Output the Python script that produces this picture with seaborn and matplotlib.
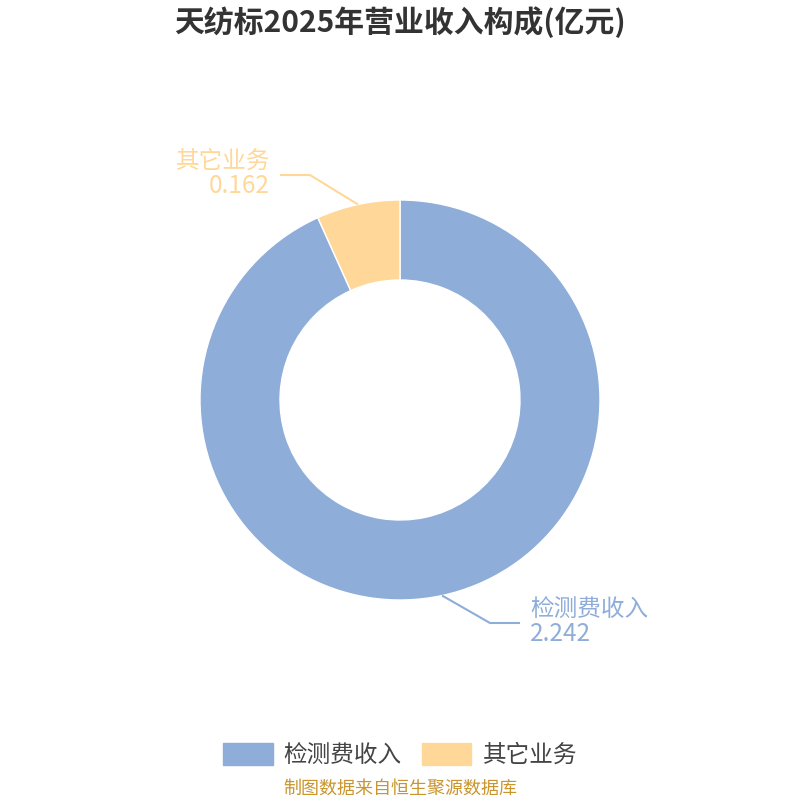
import numpy as np
import matplotlib
matplotlib.use("Agg")
import matplotlib.pyplot as plt
import seaborn as sns

# -------------------------------------------------------
# Data
# -------------------------------------------------------

categories = ["检测费收入", "其它业务"]
values = [2.242, 0.162]
value_labels = ["2.242", "0.162"]

title_text = "天纺标2025年营业收入构成(亿元)"
source_text = "制图数据来自恒生聚源数据库"

# -------------------------------------------------------
# Style
# -------------------------------------------------------

sns.set_theme(style="white")
plt.rcParams["font.family"] = ["Noto Sans CJK SC", "DejaVu Sans"]

colors = ["#8eadd9", "#ffd899"]

fig = plt.figure(figsize=(8, 8), dpi=100)
ax = fig.add_axes([0, 0, 1, 1])

# pixel-like coordinates, y measured from the bottom
cx, cy = 400, 400
radius = 200

wedges, _ = ax.pie(
    values,
    colors=colors,
    startangle=90,
    counterclock=False,
    radius=radius,
    center=(cx, cy),
    wedgeprops=dict(width=80, edgecolor="white", linewidth=1),
)

ax.set_xlim(0, 800)
ax.set_ylim(0, 800)
ax.set_aspect("equal")
ax.axis("off")

# -------------------------------------------------------
# Leader lines and labels
# -------------------------------------------------------

# kink point, end point, text anchor (pixels from top-left)
label_layout = [
    dict(kink=(490, 623), end=(520, 623), text_x=530, ha="left"),
    dict(kink=(310, 175), end=(280, 175), text_x=270, ha="right"),
]

for w, name, val, col, lay in zip(wedges, categories, value_labels, colors, label_layout):
    mid = np.deg2rad((w.theta1 + w.theta2) / 2)
    sx = cx + radius * np.cos(mid)
    sy = cy + radius * np.sin(mid)
    kx, ky = lay["kink"][0], 800 - lay["kink"][1]
    ex, ey = lay["end"][0], 800 - lay["end"][1]
    ax.plot([sx, kx, ex], [sy, ky, ey], color=col, lw=1.5, solid_capstyle="butt")
    ax.text(lay["text_x"], ey + 2, name, color=col, fontsize=17,
            ha=lay["ha"], va="bottom")
    ax.text(lay["text_x"], ey + 2, val, color=col, fontsize=17.5,
            ha=lay["ha"], va="top")

# -------------------------------------------------------
# Title, legend, source
# -------------------------------------------------------

fig.text(0.5, 1 - 22 / 800, title_text, ha="center", va="center",
         fontsize=21.5, fontweight="bold", color="#333333")

handles = [plt.Rectangle((0, 0), 1, 1, color=c) for c in colors]
fig.legend(
    handles, categories,
    loc="center", bbox_to_anchor=(0.5, 1 - 755 / 800),
    ncol=2, frameon=False, fontsize=17,
    handlelength=2.1, handleheight=1.1,
    handletextpad=0.47, columnspacing=0.85,
    labelcolor="#444444",
)

fig.text(0.5, 1 - 789 / 800, source_text, ha="center", va="center",
         fontsize=13, color="#c9952c")

fig.savefig("out.png", dpi=100)
